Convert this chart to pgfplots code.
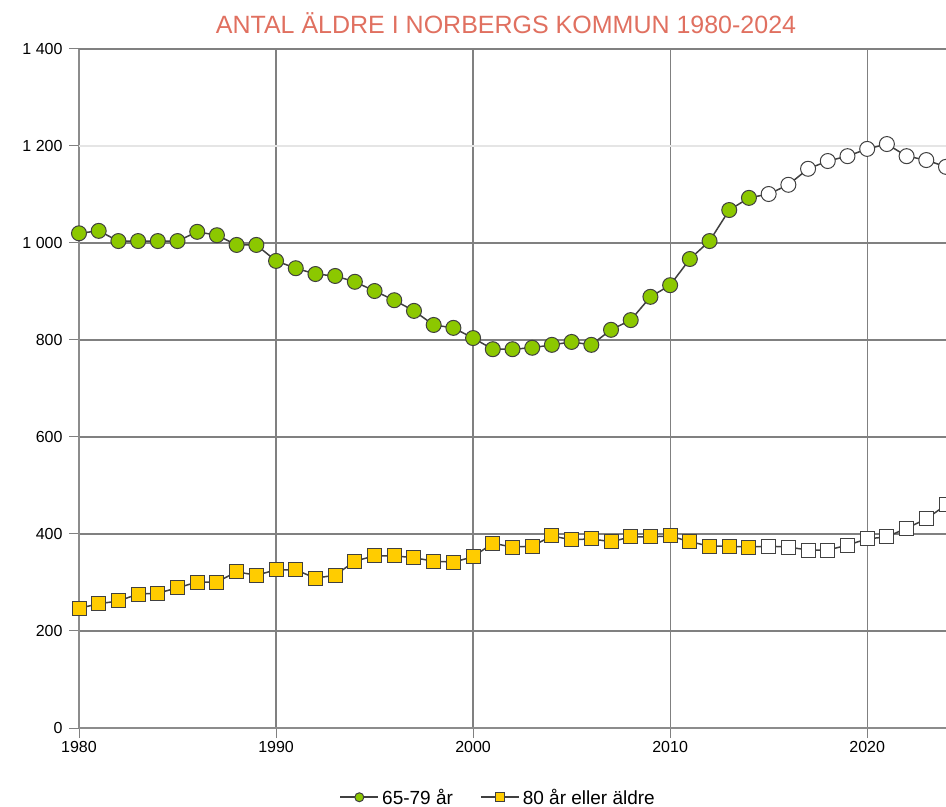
\documentclass[border=0pt]{standalone}
\usepackage{fontspec}
\setmainfont{Liberation Sans}
\usepackage{pgfplots}
\pgfplotsset{compat=1.18}
\definecolor{gridc}{RGB}{128,128,128}
\definecolor{axc}{RGB}{140,140,140}
\definecolor{greenm}{RGB}{140,200,0}
\definecolor{yellm}{RGB}{255,204,0}
\definecolor{linec}{RGB}{64,64,64}
\definecolor{titlec}{RGB}{224,112,96}
\begin{document}
\begin{tikzpicture}
\useasboundingbox (0,0) rectangle (946bp,807bp);
\begin{axis}[
  at={(79bp,79bp)}, anchor=south west,
  scale only axis, width=867bp, height=679bp,
  xmin=1980, xmax=2024, ymin=0, ymax=1400,
  xtick={1980,1990,2000,2010,2020},
  ytick={0,200,...,1400},
  xticklabel style={/pgf/number format/1000 sep={}},
  yticklabel style={/pgf/number format/1000 sep={\ }, xshift=-3bp},
  /pgf/number format/assume math mode=true,
  tick label style={font=\fontsize{16bp}{19bp}\selectfont, text=black},
  grid=major,
  major grid style={gridc, line width=1.2bp},
  axis x line*=bottom, axis y line*=left,
  axis line style={axc, line width=2.4bp, -},
  tick align=outside,
  major tick length=10bp,
  tick style={gridc, line width=1bp},
  clip=false,
  legend style={at={(0.484,-0.102)}, anchor=center, draw=none, fill=none,
    font=\fontsize{19bp}{22bp}\selectfont, column sep=0bp,
    nodes={inner xsep=3bp},
    /tikz/every even column/.append style={column sep=24bp}},
  legend columns=2,
  legend image code/.code={
    \draw[#1, mark=none, line width=1.8bp] (0bp,0bp) -- (38bp,0bp);
    \draw[#1, only marks, mark size=4.5bp] plot coordinates {(19bp,0bp)};
  },
]
\draw[gridc, line width=2.4bp] (axis cs:1980,1400) -- (axis cs:2024,1400);
\draw[white!80!gray, line width=2.5bp] (axis cs:1980,1200) -- (axis cs:2024,1200);
% 65-79 ar, observed
\addplot[linec, line width=1.5bp, mark=*, mark size=7.5bp,
  mark options={fill=greenm, draw=linec, line width=1bp}]
coordinates {
(1980,1020)(1981,1025)(1982,1004)(1983,1004)(1984,1004)(1985,1004)
(1986,1023)(1987,1016)(1988,996)(1989,996)(1990,963)(1991,948)
(1992,936)(1993,932)(1994,920)(1995,901)(1996,882)(1997,860)
(1998,831)(1999,825)(2000,804)(2001,781)(2002,781)(2003,784)
(2004,790)(2005,796)(2006,790)(2007,821)(2008,841)(2009,889)
(2010,913)(2011,967)(2012,1004)(2013,1068)(2014,1093)
};
% 80 ar eller aldre, observed
\addplot[linec, line width=1.5bp, mark=square*, mark size=7bp,
  mark options={fill=yellm, draw=linec, line width=1bp}]
coordinates {
(1980,247)(1981,256)(1982,262)(1983,276)(1984,278)(1985,289)
(1986,301)(1987,301)(1988,322)(1989,315)(1990,326)(1991,326)
(1992,309)(1993,315)(1994,344)(1995,355)(1996,355)(1997,351)
(1998,344)(1999,342)(2000,353)(2001,381)(2002,373)(2003,375)
(2004,396)(2005,388)(2006,390)(2007,384)(2008,394)(2009,394)
(2010,396)(2011,384)(2012,375)(2013,375)(2014,373)
};
\legend{65-79 år, 80 år eller äldre}
% later years, open markers
\addplot[linec, line width=1.5bp, mark=*, mark size=7.5bp, mark phase=2,
  mark options={fill=white, draw=linec, line width=1bp}, forget plot]
coordinates {
(2014,1093)(2015,1101)(2016,1120)(2017,1153)(2018,1169)(2019,1179)
(2020,1194)(2021,1204)(2022,1179)(2023,1171)(2024,1157)
};
\addplot[linec, line width=1.5bp, mark=square*, mark size=7bp, mark phase=2,
  mark options={fill=white, draw=linec, line width=1bp}, forget plot]
coordinates {
(2014,373)(2015,375)(2016,373)(2017,367)(2018,367)(2019,377)
(2020,390)(2021,394)(2022,412)(2023,431)(2024,460)
};
\end{axis}
\node[text=titlec, font=\fontsize{25bp}{29bp}\selectfont] at (506bp,784bp) {ANTAL ÄLDRE I NORBERGS KOMMUN 1980-2024};
\end{tikzpicture}
\end{document}
